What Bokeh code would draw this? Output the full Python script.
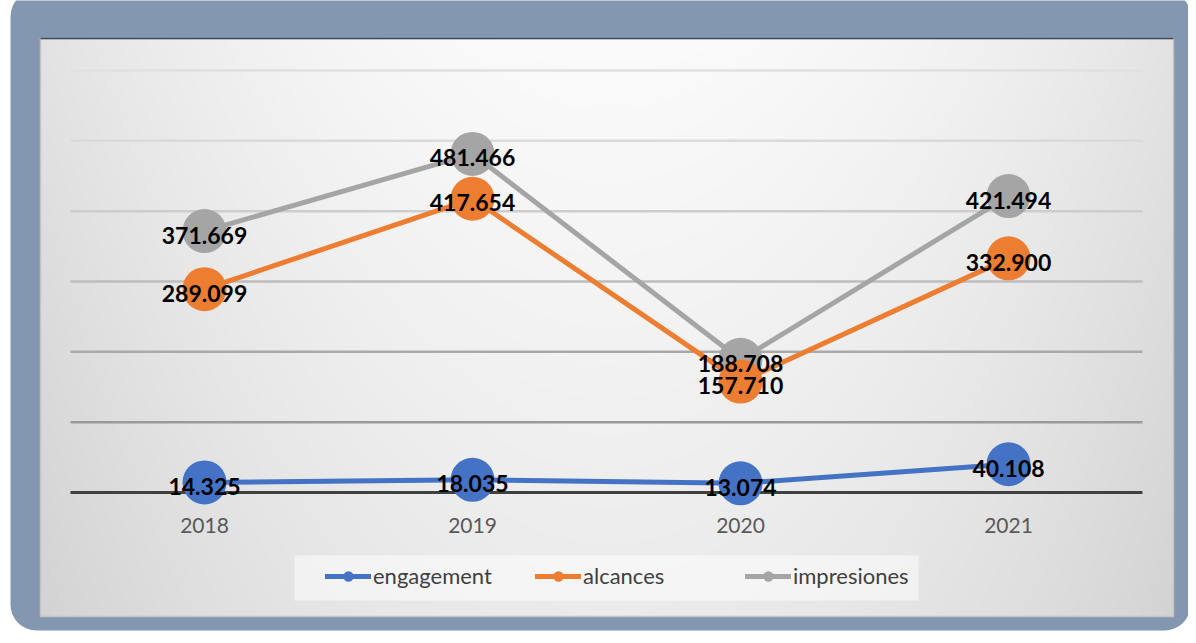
import numpy as np
from bokeh.plotting import figure
from bokeh.models import Range1d, BoxAnnotation, Legend, LegendItem, ColumnDataSource
from bokeh.core.properties import value
from bokeh.embed import file_html
from bokeh.resources import INLINE

# ---- data ----
years = ["2018", "2019", "2020", "2021"]
engagement = [14325, 18035, 13074, 40108]
alcances = [289099, 417654, 157710, 332900]
impresiones = [371669, 481466, 188708, 421494]
grid_values = [100000, 200000, 300000, 400000, 500000, 600000]

# ---- layout (canvas pixels) ----
W, H = 1188, 635
X0, SX = 204.0, 268.0           # canvas x of first category, px per category
Y0, SY = 492.0, 70.33 / 1e5      # canvas y of value 0, px per unit


def dx(px):
    return (px - X0) / SX


def dy(py):
    return (Y0 - py) / SY


p = figure(width=W, height=H, x_range=Range1d(dx(0), dx(W)), y_range=Range1d(dy(H), dy(0)),
           x_axis_type=None, y_axis_type=None, toolbar_location=None, output_backend="svg",
           min_border=0, min_border_left=0, min_border_right=0, min_border_top=0, min_border_bottom=0)
p.outline_line_color = None
p.background_fill_color = "white"
p.border_fill_color = "white"

# outer rounded frame
p.add_layout(BoxAnnotation(left=10, right=1190, top=5, bottom=H + 10,
                           left_units="screen", right_units="screen", top_units="screen", bottom_units="screen",
                           fill_color="#8497B0", fill_alpha=1.0, line_color=None,
                           border_radius=26, level="underlay"))

# inner gradient panel
PL, PT, PR, PB = 40, 38, 1173, 616
gw, gh = (PR - PL) // 2, (PB - PT) // 2
xs = PL + (np.arange(gw) + 0.5) * (PR - PL) / gw
ys = PB - (np.arange(gh) + 0.5) * (PB - PT) / gh     # row 0 = bottom
XX, YY = np.meshgrid(xs, ys)
v = 251 - 26 * ((XX - 608) / 590.0) ** 2 - 16 * ((YY - PT) / 578.0)
v = np.clip(v, 0, 255).astype(np.uint8)
img = np.empty((gh, gw), dtype=np.uint32)
view = img.view(dtype=np.uint8).reshape((gh, gw, 4))
view[:, :, 0] = v
view[:, :, 1] = v
view[:, :, 2] = v
view[:, :, 3] = 255
p.image_rgba(image=[img], x=dx(PL), y=dy(PB), dw=(PR - PL) / SX, dh=(PB - PT) / SY)
p.quad(left=dx(PL), right=dx(PR), top=dy(PT), bottom=dy(PB), fill_color=None,
       line_color="#c4c4c4", line_width=1.5)
p.segment(x0=dx(PL), x1=dx(PR), y0=dy(PT), y1=dy(PT), line_color="#3b4658", line_width=1.5)

# gridlines
grid_colors = ["#9a9a9a", "#a9a9a9", "#bdbdbd", "#cdcdcd", "#dadada", "#e0e0e0"]
n = len(years)
p.segment(x0=[-0.5] * len(grid_values), x1=[n - 0.5] * len(grid_values),
          y0=grid_values, y1=grid_values, line_color=grid_colors, line_width=2.5)
# x axis line
p.segment(x0=-0.5, x1=n - 0.5, y0=0, y1=0, line_color="#404040", line_width=3)

# year labels
idx = list(range(n))
p.text(x=idx, y=[0] * n, text=years, y_offset=33, text_align="center", text_baseline="middle",
       text_font=value("Lato"), text_font_size="21px", text_color="#595959")

# legend background box
p.quad(left=dx(294), right=dx(918), top=dy(555), bottom=dy(600), fill_color="white",
       fill_alpha=0.5, line_color=None)

# series
series = [("engagement", engagement, "#4472C4"),
          ("alcances", alcances, "#ED7D31"),
          ("impresiones", impresiones, "#A5A5A5")]
rend = {}
for name, vals, col in reversed(series):
    ln = p.line(x=idx, y=vals, line_color=col, line_width=5, line_cap="round", line_join="round")
    sc = p.scatter(x=idx, y=vals, size=44, fill_color=col, line_color=col, line_width=0)
    rend[name] = (ln, sc)

# data labels
for name, vals, col in series:
    src = ColumnDataSource(dict(x=idx, y=vals, t=[f"{v_:,}".replace(",", ".") for v_ in vals]))
    p.text(x="x", y="y", text="t", source=src, text_align="center", text_baseline="middle",
           y_offset=4, text_font=value("Lato"), text_font_style="bold", text_font_size="23px",
           text_color="black")

legend = Legend(items=[LegendItem(label=name, renderers=list(rend[name])) for name, _, _ in series],
                orientation="horizontal", location=(321, 42), background_fill_alpha=0,
                border_line_alpha=0, glyph_width=46, glyph_height=26, label_standoff=2,
                label_width=150, spacing=12, padding=4, margin=0, label_text_font="Lato",
                label_text_font_size="22px", label_text_color="#404040")
p.add_layout(legend)

open("out.html", "w").write(file_html(p, INLINE))
